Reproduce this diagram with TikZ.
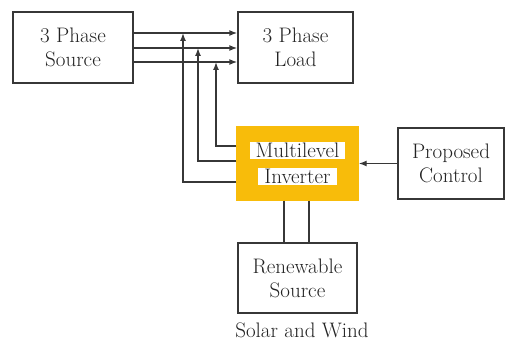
\documentclass[tikz,border=0pt]{standalone}
\usetikzlibrary{arrows.meta}
\definecolor{lineclr}{RGB}{55,55,55}
\definecolor{txtclr}{RGB}{35,35,35}
\definecolor{invclr}{RGB}{248,188,10}
\newcommand{\whitebox}[1]{{\setlength{\fboxsep}{1pt}\colorbox{white}{\hspace{5pt}#1\hspace{5pt}}}}
\begin{document}
\begin{tikzpicture}[x=1pt, y=-1pt,
  every node/.style={font=\fontsize{21}{24}\selectfont, text=txtclr},
  blk/.style={draw=lineclr, line width=1.4pt, align=center, inner sep=0pt},
  conn/.style={draw=lineclr, line width=1.4pt},
  >={Latex[length=8pt,width=6pt]}]
\useasboundingbox (0,0) rectangle (507,342);
\node[blk, minimum width=120pt, minimum height=71pt] (src) at (73,47.5) {3 Phase\\Source};
\node[blk, minimum width=115pt, minimum height=71pt] (load) at (295.5,47.5) {3 Phase\\Load};
\node[blk, fill=invclr, draw=invclr, minimum width=121pt, minimum height=73pt] (inv) at (297.5,163.5) {\whitebox{Multilevel}\\[2pt]\whitebox{Inverter}};
\node[blk, minimum width=106pt, minimum height=71pt] (ctrl) at (451,163.5) {Proposed\\Control};
\node[blk, minimum width=119pt, minimum height=70pt] (ren) at (297.5,278) {Renewable\\Source};
\node (solar) at (302,330) {Solar and Wind};
% junctions on the phase lines
\coordinate (j1) at (183,33);
\coordinate (j2) at (198,48);
\coordinate (j3) at (216,62);
% three phase lines
\draw[conn, ->] ([yshift=14.5pt]src.east) -- ([yshift=14.5pt]load.west);
\draw[conn, ->] ([yshift=-0.5pt]src.east) -- ([yshift=-0.5pt]load.west);
\draw[conn, ->] ([yshift=-14.5pt]src.east) -- ([yshift=-14.5pt]load.west);
% inverter outputs
\draw[conn, ->] ([yshift=-18.5pt]inv.west) -| (j1);
\draw[conn, ->] ([yshift=2.5pt]inv.west) -| (j2);
\draw[conn, ->] ([yshift=17.5pt]inv.west) -| (j3);
\draw[conn, ->] (ctrl.west) -- (inv.east);
\draw[conn] ([xshift=-13.5pt]inv.south) -- ([xshift=-13.5pt]ren.north);
\draw[conn] ([xshift=11.5pt]inv.south) -- ([xshift=11.5pt]ren.north);
\end{tikzpicture}
\end{document}
